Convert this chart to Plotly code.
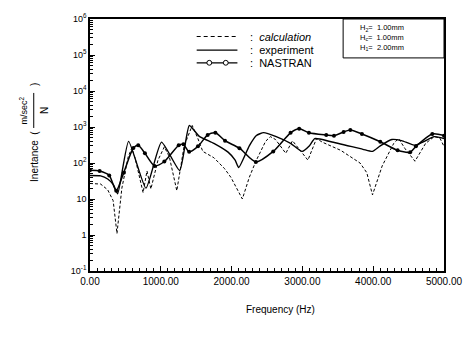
import plotly.graph_objects as go

# ---- data ----
calc_f = [0, 150, 250, 327, 381, 450, 540, 590, 640, 750, 805, 860, 960, 1050, 1120, 1226,
          1330, 1444, 1520, 1593, 1750, 1900, 1990, 2070, 2152, 2250, 2343, 2480, 2547, 2620,
          2765, 2860, 2950, 3078, 3200, 3280, 3541, 3814, 3909, 3990, 4127, 4290, 4358, 4450,
          4590, 4740, 4862, 4940, 5000]
calc_v = [27, 26, 18, 9, 1.1, 20, 150, 260, 130, 15, 60, 19, 120, 280, 150, 17,
          300, 1100, 500, 210, 140, 70, 40, 20, 10, 40, 112, 400, 540, 450,
          186, 415, 250, 120, 480, 380, 225, 100, 54, 13, 83, 350, 480, 250,
          112, 350, 540, 500, 290]

exp_f = [0, 150, 250, 330, 390, 545, 790, 1010, 1267, 1403, 1540, 1750, 1950, 2050, 2100,
         2250, 2350, 2452, 2630, 2833, 2996, 3100, 3174, 3405, 3854, 3990, 4100, 4264, 4400,
         4590, 4700, 4862, 5000]
exp_v = [45, 44, 36, 25, 14, 400, 20, 380, 62, 1100, 560, 350, 200, 120, 75,
         300, 580, 700, 540, 350, 210, 300, 475, 390, 240, 210, 300, 450, 420,
         310, 380, 540, 480]

nas_f = [0, 136, 272, 370, 477, 613, 681, 776, 912, 1050, 1253, 1320, 1400, 1525, 1662,
         1771, 1907, 2111, 2343, 2588, 2833, 2955, 3092, 3337, 3446, 3582, 3677, 3841, 4100,
         4345, 4522, 4604, 4835, 5000]
nas_v = [63, 60, 45, 17, 54, 260, 310, 186, 83, 110, 310, 330, 205, 290, 600,
         690, 415, 257, 107, 210, 690, 890, 690, 600, 575, 730, 830, 640, 390,
         225, 200, 290, 640, 575]

x_ticks = [0, 1000, 2000, 3000, 4000, 5000]
x_ticktext = ["0.00", "1000.00", "2000.00", "3000.00", "4000.00", "5000.00"]
y_ticks = [0.1, 1, 10, 100, 1000, 1e4, 1e5, 1e6]
y_ticktext = ["10<sup>-1</sup>", "1", "10", "10<sup>2</sup>", "10<sup>3</sup>",
              "10<sup>4</sup>", "10<sup>5</sup>", "10<sup>6</sup>"]
legend_labels = ["calculation", "experiment", "NASTRAN"]
box_labels = ["H<sub>2</sub>=  1.00mm", "H<sub>c</sub>=  1.00mm", "H<sub>1</sub>=  2.00mm"]

# ---- geometry helpers (pixel -> paper) ----
W, H = 475, 340
L, R, T, B = 90, 20, 12, 69
PW, PH = W - L - R, H - T - B


def px(x):
    return (x - L) / PW


def py(y):
    return (H - B - y) / PH


FONT = "Liberation Sans, Arial, sans-serif"

fig = go.Figure()
fig.add_trace(go.Scatter(x=calc_f, y=calc_v, mode="lines",
                         line=dict(color="black", width=1, dash="3px,2px"),
                         showlegend=False))
fig.add_trace(go.Scatter(x=exp_f, y=exp_v, mode="lines",
                         line=dict(color="black", width=1.4, shape="spline", smoothing=0.5),
                         showlegend=False))
fig.add_trace(go.Scatter(x=nas_f, y=nas_v, mode="lines+markers",
                         line=dict(color="black", width=1.5, shape="spline", smoothing=0.7),
                         marker=dict(color="black", size=4),
                         showlegend=False))

minor_y = [m * 10 ** k for k in range(-1, 6) for m in range(2, 10)]

fig.update_layout(
    width=W, height=H,
    margin=dict(l=L, r=R, t=T, b=B),
    paper_bgcolor="white", plot_bgcolor="white",
    font=dict(family=FONT, size=10, color="black"),
    xaxis=dict(range=[0, 5000], tickvals=x_ticks, ticktext=x_ticktext,
               ticks="inside", ticklen=5, tickwidth=1, tickcolor="black",
               showline=True, linewidth=1.5, linecolor="black", mirror=True,
               showgrid=False, zeroline=False,
               tickfont=dict(size=10, family=FONT),
               minor=dict(dtick=100, ticks="inside", ticklen=3, tickcolor="black", showgrid=False)),
    yaxis=dict(type="log", range=[-1, 6], tickvals=y_ticks, ticktext=y_ticktext,
               ticks="inside", ticklen=5, tickwidth=1, tickcolor="black",
               showline=True, linewidth=1.5, linecolor="black", mirror=True,
               showgrid=False, zeroline=False,
               tickfont=dict(size=9, family=FONT),
               minor=dict(tickvals=minor_y, ticks="inside", ticklen=3, tickcolor="black", showgrid=False)),
)

shapes = []
annotations = []

# legend samples
rows = [30, 44, 57]
shapes.append(dict(type="line", xref="paper", yref="paper", x0=px(200), x1=px(242),
                   y0=py(rows[0]), y1=py(rows[0]), line=dict(color="black", width=1, dash="4px,3px")))
shapes.append(dict(type="line", xref="paper", yref="paper", x0=px(200), x1=px(242),
                   y0=py(rows[1]), y1=py(rows[1]), line=dict(color="black", width=1.2)))
shapes.append(dict(type="line", xref="paper", yref="paper", x0=px(200), x1=px(242),
                   y0=py(rows[2]), y1=py(rows[2]), line=dict(color="black", width=1.2)))
for cx in (213, 230):
    r = 2.5
    shapes.append(dict(type="circle", xref="paper", yref="paper",
                       x0=px(cx - r), x1=px(cx + r), y0=py(rows[2] + r), y1=py(rows[2] - r),
                       line=dict(color="black", width=1), fillcolor="white"))
for i, lab in enumerate(legend_labels):
    txt = ":  <i>%s</i>" % lab if i == 0 else ":  %s" % lab
    annotations.append(dict(x=px(253), y=py(rows[i]), xref="paper", yref="paper",
                            text=txt, showarrow=False, xanchor="left", yanchor="middle",
                            font=dict(size=11, family=FONT)))

# parameter box
shapes.append(dict(type="rect", xref="paper", yref="paper", x0=px(351), x1=px(455),
                   y0=py(52), y1=py(12), line=dict(color="black", width=1), fillcolor="white"))
annotations.append(dict(x=px(366), y=py(31), xref="paper", yref="paper",
                        text="<br>".join(box_labels), showarrow=False, align="left",
                        xanchor="left", yanchor="middle",
                        font=dict(size=7.5, family=FONT)))

# x title
annotations.append(dict(x=px(286), y=py(311), xref="paper", yref="paper",
                        text="Frequency (Hz)", showarrow=False, xanchor="center", yanchor="middle",
                        font=dict(size=10, family=FONT)))
# y title pieces
annotations.append(dict(x=px(32), y=py(153), xref="paper", yref="paper",
                        text="Inertance  (", showarrow=False, textangle=-90,
                        xanchor="center", yanchor="middle", font=dict(size=10, family=FONT)))
annotations.append(dict(x=px(22), y=py(106), xref="paper", yref="paper",
                        text="m/sec<sup>2</sup>", showarrow=False, textangle=-90,
                        xanchor="center", yanchor="middle", font=dict(size=9, family=FONT)))
annotations.append(dict(x=px(43), y=py(106), xref="paper", yref="paper",
                        text="N", showarrow=False, textangle=-90,
                        xanchor="center", yanchor="middle", font=dict(size=10, family=FONT)))
annotations.append(dict(x=px(32), y=py(79), xref="paper", yref="paper",
                        text=")", showarrow=False, textangle=-90,
                        xanchor="center", yanchor="middle", font=dict(size=10, family=FONT)))
shapes.append(dict(type="line", xref="paper", yref="paper", x0=px(32), x1=px(32),
                   y0=py(88), y1=py(124), line=dict(color="black", width=1)))

fig.update_layout(shapes=shapes, annotations=annotations)
fig.write_html("out.html", config={"displayModeBar": False},
               post_script="document.body.style.margin='0';document.body.style.padding='0';")
